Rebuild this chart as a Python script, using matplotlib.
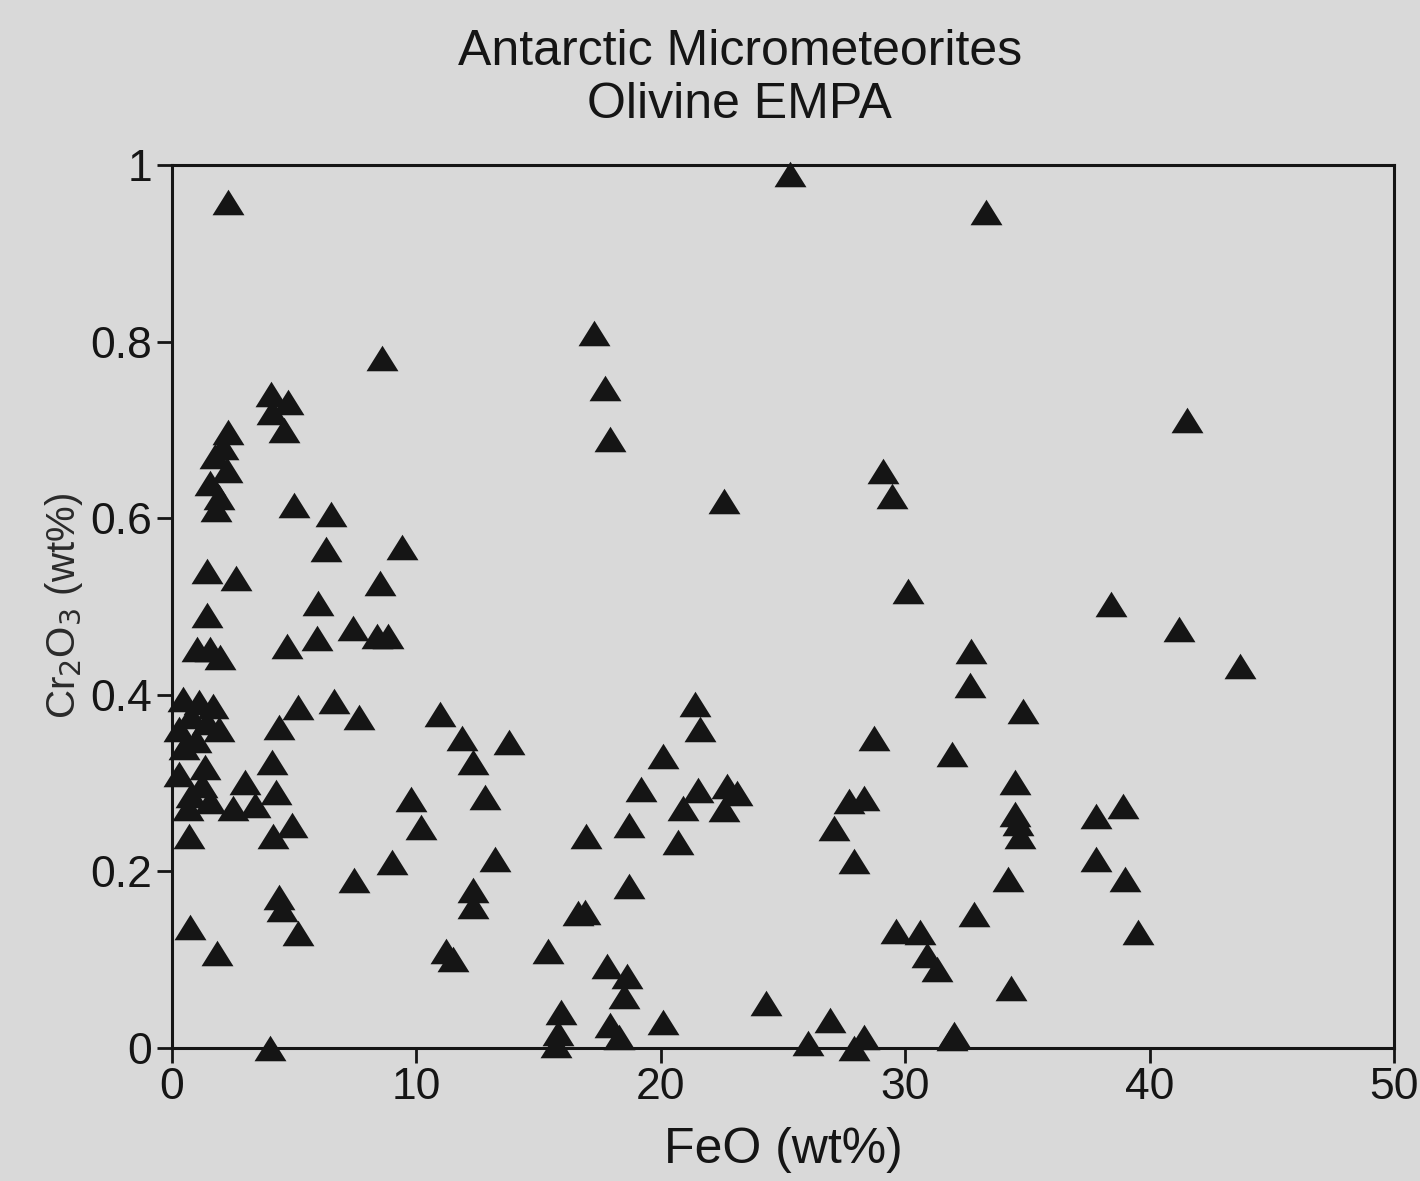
import matplotlib
matplotlib.use("Agg")
import matplotlib.pyplot as plt

# FeO (wt%) and Cr2O3 (wt%) for each olivine grain
feo = [
    2.3, 2.3, 2.1, 1.75, 2.25, 1.57, 1.94, 1.79,
    1.43, 2.62, 1.42, 1.03, 1.56, 1.98,
    0.45, 1.1, 1.67, 0.78, 1.43, 0.3, 1.94, 0.98, 0.5, 0.3, 1.35, 1.25, 0.77, 1.55, 0.67, 0.7, 0.74, 1.86,
    3.0, 2.5, 3.4,
    4.0, 4.05, 4.75, 4.57, 4.1,
    5.0, 6.5, 6.3, 9.4, 8.5, 5.96, 7.4, 8.4, 8.85, 5.95, 4.7,
    5.17, 6.65, 7.65, 4.37, 4.1, 4.25, 4.15, 4.9, 4.4, 4.5, 5.17, 7.46, 9.0, 8.6,
    9.8, 10.2, 10.96, 11.85, 12.3, 12.8, 13.2, 13.8, 12.3, 12.3, 11.2, 11.5,
    21.4, 21.6, 20.1, 19.2, 21.5, 22.7, 23.1, 20.9, 22.6, 18.7, 20.7, 16.95, 18.7,
    16.6, 16.9, 15.4, 17.8, 18.6, 18.5, 17.9, 18.3, 15.9, 15.8, 15.7, 20.1, 24.3,
    26.9, 26.0, 28.3, 27.9, 28.7, 27.7, 28.3, 27.1, 27.9, 31.9,
    25.3, 17.25, 17.7, 17.9, 22.6,
    33.3, 41.5, 29.1, 29.45, 30.1, 38.4, 41.2, 43.7, 32.7, 32.65, 34.8, 31.9,
    34.5, 34.5, 34.6, 34.7, 34.2, 34.3, 32.8,
    29.6, 30.6, 30.9, 31.3, 32.0,
    37.8, 38.9, 37.8, 39.0, 39.5,
]
cr2o3 = [
    0.958, 0.698, 0.681, 0.67, 0.655, 0.64, 0.624, 0.61,
    0.54, 0.532, 0.49, 0.452, 0.452, 0.443,
    0.395, 0.392, 0.387, 0.376, 0.369, 0.361, 0.361, 0.349, 0.341, 0.31, 0.318, 0.298, 0.286, 0.28, 0.272, 0.24, 0.137, 0.107,
    0.301, 0.272, 0.275,
    0.0, 0.741, 0.732, 0.70, 0.72,
    0.615, 0.605, 0.565, 0.567, 0.527, 0.504, 0.475, 0.466, 0.466, 0.464, 0.455,
    0.386, 0.393, 0.375, 0.363, 0.324, 0.29, 0.24, 0.252, 0.171, 0.157, 0.13, 0.19, 0.21, 0.782,
    0.282, 0.25, 0.378, 0.351, 0.324, 0.284, 0.214, 0.346, 0.179, 0.16, 0.11, 0.10,
    0.389, 0.361, 0.33, 0.293, 0.292, 0.297, 0.288, 0.271, 0.27, 0.252, 0.233, 0.24, 0.183,
    0.152, 0.154, 0.11, 0.092, 0.081, 0.058, 0.026, 0.012, 0.04, 0.017, 0.003, 0.029, 0.05,
    0.031, 0.005, 0.012, 0.0, 0.351, 0.28, 0.283, 0.249, 0.212, 0.011,
    0.99, 0.81, 0.748, 0.69, 0.62,
    0.947, 0.711, 0.653, 0.625, 0.517, 0.503, 0.474, 0.433, 0.45, 0.411, 0.382, 0.333,
    0.301, 0.265, 0.255, 0.24, 0.191, 0.067, 0.151,
    0.132, 0.131, 0.105, 0.089, 0.015,
    0.263, 0.274, 0.214, 0.191, 0.131,
]

title_lines = ["Antarctic Micrometeorites", "Olivine EMPA"]
xticks = [0, 10, 20, 30, 40, 50]
yticks = [0, 0.2, 0.4, 0.6, 0.8, 1]
ytick_labels = ["0", "0.2", "0.4", "0.6", "0.8", "1"]

paper = "#d9d9d9"
ink = "#151515"

plt.rcParams["font.family"] = ["Liberation Sans", "DejaVu Sans"]

fig = plt.figure(figsize=(14.2, 11.81), dpi=100, facecolor=paper)
ax = fig.add_axes([0.121, 0.113, 0.861, 0.747])
ax.set_facecolor(paper)

# wide, flat filled triangle like the original symbol
tri = [(-1, -0.8), (1, -0.8), (0, 0.8), (-1, -0.8)]
ax.scatter(feo, cr2o3, marker=tri, s=23 ** 2, c=ink, linewidths=0, clip_on=False, zorder=3)

ax.set_xlim(0, 50)
ax.set_ylim(0, 1)
ax.set_xticks(xticks)
ax.set_yticks(yticks)
ax.set_yticklabels(ytick_labels)
ax.tick_params(direction="out", length=11, width=2, colors=ink, labelsize=32, pad=3)
for s in ax.spines.values():
    s.set_linewidth(2.2)
    s.set_color(ink)

ax.set_xlabel("FeO (wt%)", fontsize=36, color=ink, labelpad=14)
ax.set_ylabel("Cr$_2$O$_3$ (wt%)", fontsize=29, color="#2a2a2a", labelpad=4)

fig.text(0.521, 0.956, title_lines[0], ha="center", va="center", fontsize=36, color=ink)
fig.text(0.521, 0.911, title_lines[1], ha="center", va="center", fontsize=36, color=ink)

fig.savefig("out.png", dpi=100, facecolor=paper)
